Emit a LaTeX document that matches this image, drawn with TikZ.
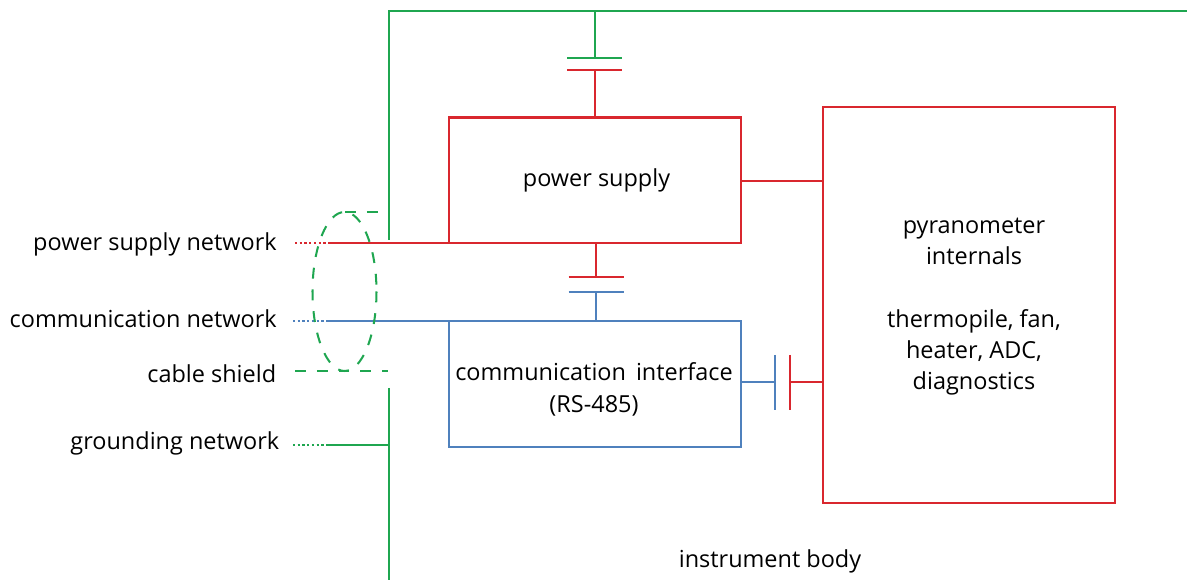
\documentclass[tikz,border=0pt]{standalone}
\usepackage{fontspec}
\setmainfont{Open Sans}
\definecolor{netred}{HTML}{D9272E}
\definecolor{netblue}{HTML}{4F81BD}
\definecolor{netgreen}{HTML}{1FA650}
\tikzset{
  box/.style={draw, line width=1.15pt, inner sep=0pt, minimum width=5.86cm},
  tag/.style={anchor=east, inner sep=0pt},
  boxtext/.style={inner sep=0pt, align=center},
  wire/.style={line width=1.15pt},
  dotwire/.style={line width=1.15pt, dash pattern=on 1.2pt off 1.5pt},
  shield/.style={netgreen, line width=1.15pt, dash pattern=on 6.2pt off 6.2pt},
}

\begin{document}
\begin{tikzpicture}[x=0.02cm, y=-0.02cm, font=\fontsize{13.35}{17.8}\selectfont]
    \useasboundingbox (0,0) rectangle (1187,580);

    \node[box, netred, minimum height=2.52cm] (supply) at (595,180.5) {};
    \node[box, netblue, minimum height=2.52cm] (comm) at (595,384) {};
    \node[box, netred, minimum height=7.94cm] (internals) at (969,305) {};

    \node[boxtext] (supplytext) at (596.5,180.5) {power supply};
    \node[boxtext] (commtext) at (594,389.5) {communication\, interface\\(RS-485)};
    \node[boxtext] (inttext) at (974,306.5) {pyranometer\\internals\\[17.8pt]thermopile, fan,\\heater, ADC,\\diagnostics};

    \node[tag] (powerlabel) at (277,244) {power supply network};
    \node[tag] (commlabel) at (277,318.5) {communication network};
    \node[tag] (shieldlabel) at (276.5,374) {cable shield};
    \node[tag] (groundlabel) at (279.5,443) {grounding network};
    \node[inner sep=0pt] (bodylabel) at (770,561) {instrument body};

    % body, top edge and capacitor to the supply
    \coordinate (bodytop) at (389,11);
    \coordinate (bodyright) at (1187,11);
    \coordinate (bodystop) at (389,240);
    \coordinate (bodyground) at (389,388);
    \coordinate (bodyend) at (389,580);
    \coordinate (capgtop) at (595,11);
    \coordinate (capg) at (595,58);
    \coordinate (capr) at (595,70);
    \coordinate (capsup) at (595,117);
    \draw[wire, netgreen] (bodystop) -- (bodytop) -- (bodyright);
    \draw[wire, netgreen] (bodyground) -- (bodyend);
    \draw[wire, netgreen] (capgtop) -- (capg);
    \draw[wire, netgreen] ([xshift=-28*0.02cm]capg) -- ([xshift=27*0.02cm]capg);
    \draw[wire, netred] ([xshift=-28*0.02cm]capr) -- ([xshift=27*0.02cm]capr);
    \draw[wire, netred] (capr) -- (capsup);

    % supply to internals
    \coordinate (supright) at (741,181);
    \coordinate (intleft) at (822,181);
    \draw[wire, netred] (supright) -- (intleft);

    % capacitor between supply and interface
    \coordinate (supbot) at (596,243);
    \coordinate (capa) at (596,277);
    \coordinate (capb) at (596,292);
    \coordinate (comtop) at (596,321);
    \draw[wire, netred] (supbot) -- (capa);
    \draw[wire, netred] ([xshift=-27.5*0.02cm]capa) -- ([xshift=27.5*0.02cm]capa);
    \draw[wire, netblue] ([xshift=-27.5*0.02cm]capb) -- ([xshift=27.5*0.02cm]capb);
    \draw[wire, netblue] (capb) -- (comtop);

    % capacitor between interface and internals
    \coordinate (comright) at (741,382);
    \coordinate (capc) at (775,382);
    \coordinate (capd) at (790,382);
    \coordinate (intleftb) at (822,382);
    \draw[wire, netblue] (comright) -- (capc);
    \draw[wire, netblue] ([yshift=27*0.02cm]capc) -- ([yshift=-28*0.02cm]capc);
    \draw[wire, netred] ([yshift=27*0.02cm]capd) -- ([yshift=-28*0.02cm]capd);
    \draw[wire, netred] (capd) -- (intleftb);

    % network lines
    \coordinate (powerdot) at (295,243);
    \coordinate (powerin) at (330,243);
    \coordinate (powerbox) at (448,243);
    \draw[dotwire, netred] (powerdot) -- (powerin);
    \draw[wire, netred] (powerin) -- (powerbox);
    \coordinate (commdot) at (293,321);
    \coordinate (commin) at (328,321);
    \coordinate (commbox) at (448,321);
    \draw[dotwire, netblue] (commdot) -- (commin);
    \draw[wire, netblue] (commin) -- (commbox);
    \coordinate (grounddot) at (293,445);
    \coordinate (groundin) at (328,445);
    \coordinate (groundbody) at (389,445);
    \draw[dotwire, netgreen] (grounddot) -- (groundin);
    \draw[wire, netgreen] (groundin) -- (groundbody);

    % cable shield
    \coordinate (shieldmid) at (344.5,291.5);
    \coordinate (shieldtop) at (345,212);
    \coordinate (shieldtopend) at (378,212);
    \coordinate (shieldleft) at (295,371);
    \coordinate (shieldright) at (388,371);
    \draw[shield] (shieldmid) ellipse [x radius=32, y radius=79.5];
    \draw[shield] (shieldtop) -- (shieldtopend);
    \draw[shield] (shieldleft) -- (shieldright);
\end{tikzpicture}
\end{document}
